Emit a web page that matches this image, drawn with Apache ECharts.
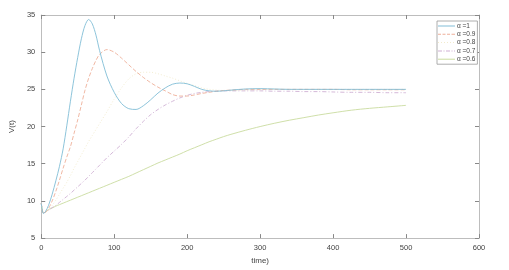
<!DOCTYPE html>
<html><head><meta charset="utf-8">
<script src="https://cdn.jsdelivr.net/npm/echarts@6/dist/echarts.min.js"></script>
<style>html,body{margin:0;padding:0;background:#fff}#c{width:509px;height:270px}</style>
</head><body><div id="c"></div>
<script>
const times = [0,3,6,10,15,20,25,30,35,40,45,50,55,60,65,70,75,80,90,100,110,120,130,140,150,160,170,180,190,200,210,220,230,240,250,260,280,300,320,340,360,380,400,425,450,475,500];
const alpha1  = [9.7,8.3,8.6,9.4,10.9,12.7,14.65,17.0,20.1,23.4,26.5,29.3,31.8,33.6,34.4,33.8,32.3,30.2,26.8,24.6,23.1,22.4,22.3,22.8,23.6,24.5,25.2,25.7,25.85,25.75,25.4,25.0,24.8,24.75,24.8,24.9,25.05,25.1,25.05,25.0,25.0,25.0,25.0,25.0,25.0,25.0,25.0];
const alpha09 = [9.7,8.35,8.5,9.0,10.0,11.3,12.8,14.4,15.9,17.3,19.1,20.9,22.9,24.9,26.5,27.8,28.9,29.7,30.35,30.0,29.2,28.3,27.4,26.6,25.9,25.3,24.8,24.3,24.1,24.1,24.25,24.45,24.6,24.75,24.85,24.9,25.0,25.0,25.0,25.0,25.0,25.0,25.0,24.95,24.95,24.95,24.95];
const alpha08 = [9.7,8.4,8.5,8.8,9.4,10.1,10.9,11.7,12.5,13.4,14.4,15.3,16.2,17.1,18.0,18.8,19.6,20.4,22.0,23.7,25.2,26.4,27.1,27.3,27.3,27.1,26.8,26.5,26.15,25.8,25.5,25.2,25.0,24.9,24.85,24.85,24.9,24.95,25.0,25.0,25.0,25.0,25.0,25.0,25.0,25.0,25.0];
const alpha07 = [9.7,8.4,8.5,8.75,9.1,9.4,9.8,10.2,10.6,11.0,11.45,11.9,12.35,12.8,13.3,13.8,14.3,14.8,15.8,16.7,17.6,18.6,19.7,20.7,21.6,22.3,22.9,23.4,23.85,24.2,24.45,24.6,24.7,24.75,24.8,24.8,24.8,24.8,24.75,24.75,24.7,24.7,24.65,24.6,24.6,24.55,24.55];
const alpha06 = [9.7,8.4,8.5,8.85,9.05,9.3,9.5,9.7,9.9,10.1,10.3,10.5,10.7,10.9,11.1,11.3,11.5,11.7,12.1,12.5,12.9,13.3,13.75,14.2,14.65,15.1,15.5,15.9,16.3,16.75,17.15,17.55,17.95,18.3,18.65,18.95,19.5,20.0,20.45,20.85,21.2,21.55,21.85,22.2,22.45,22.65,22.85];
const seriesNames = ['\u03b1 =1','\u03b1 =0.9','\u03b1 =0.8','\u03b1 =0.7','\u03b1 =0.6'];
const xTicks = [0,100,200,300,400,500,600];
const yTicks = [5,10,15,20,25,30,35];

const values = [alpha1, alpha09, alpha08, alpha07, alpha06];
const colors = ['#80bdd6','#eeb09a','#f2ebcd','#cfb0d4','#cadb9f'];
const dashes = ['solid',[4,2],[1,2],[4,2,1,2],'solid'];
const icons = [
  'rect',
  'path://M0,0h3v1h-3z M4.5,0h3v1h-3z M9,0h3v1h-3z M13.5,0h3.5v1h-3.5z',
  'path://M0,0h1v1h-1z M3,0h1v1h-1z M6,0h1v1h-1z M9,0h1v1h-1z M12,0h1v1h-1z M15,0h1v1h-1z M16.99,0h0.01v1h-0.01z',
  'path://M0,0h4v1h-4z M5.5,0h1v1h-1z M8,0h4v1h-4z M13.5,0h1v1h-1z M16,0h1v1h-1z',
  'rect'
];
const font = 'Liberation Sans, Arial, sans-serif';
const axCol = '#bdbdbd';

const chart = echarts.init(document.getElementById('c'), null, {renderer:'canvas'});
const series = values.map((v,i)=>({
  name: seriesNames[i], type:'line', symbol:'none', smooth:0.3,
  data: times.map((t,j)=>[t,v[j]]),
  lineStyle:{color:colors[i], width:0.9, type:dashes[i]},
  itemStyle:{color:colors[i]}, z: 10-i
}));
const legendData = seriesNames.map((n,i)=>({
  name:n, icon:icons[i], itemStyle:{color:colors[i], opacity:1}
}));
const xBase = {type:'value', min:xTicks[0], max:xTicks[xTicks.length-1], interval:100,
  axisLine:{show:true,onZero:false,lineStyle:{color:axCol,width:1}},
  axisTick:{show:true,inside:true,length:4,lineStyle:{color:'#888'}},
  splitLine:{show:false}};
const yBase = {type:'value', min:yTicks[0], max:yTicks[yTicks.length-1], interval:5,
  axisLine:{show:true,onZero:false,lineStyle:{color:axCol,width:1}},
  axisTick:{show:true,inside:true,length:4,lineStyle:{color:'#888'}},
  splitLine:{show:false}};
chart.setOption({
  animation:false,
  grid:{left:40,right:30,top:15,bottom:29,containLabel:false},
  legend:{
    data:legendData, orient:'vertical', left:437, top:21,
    width:38, itemWidth:17, itemHeight:1, itemGap:0.3,
    padding:[1,2,1,1], borderColor:'#999', borderWidth:0.8, backgroundColor:'#fff',
    textStyle:{fontSize:6.5, fontFamily:font, color:'#444', padding:[0,0,0,-3], lineHeight:8}
  },
  xAxis:[
    Object.assign({}, xBase, {position:'bottom',
      name:'time)', nameLocation:'middle', nameGap:17,
      nameTextStyle:{fontSize:8, fontFamily:font, color:'#444'},
      axisLabel:{fontSize:7.5, fontFamily:font, color:'#444', margin:6}}),
    Object.assign({}, xBase, {position:'top', axisLabel:{show:false}})
  ],
  yAxis:[
    Object.assign({}, yBase, {position:'left',
      name:'V(t)', nameLocation:'middle', nameGap:16, nameRotate:90,
      nameTextStyle:{fontSize:8, fontFamily:font, color:'#444'},
      axisLabel:{fontSize:7.5, fontFamily:font, color:'#444', margin:6}}),
    Object.assign({}, yBase, {position:'right', axisLabel:{show:false}})
  ],
  series: series
});
</script></body></html>
